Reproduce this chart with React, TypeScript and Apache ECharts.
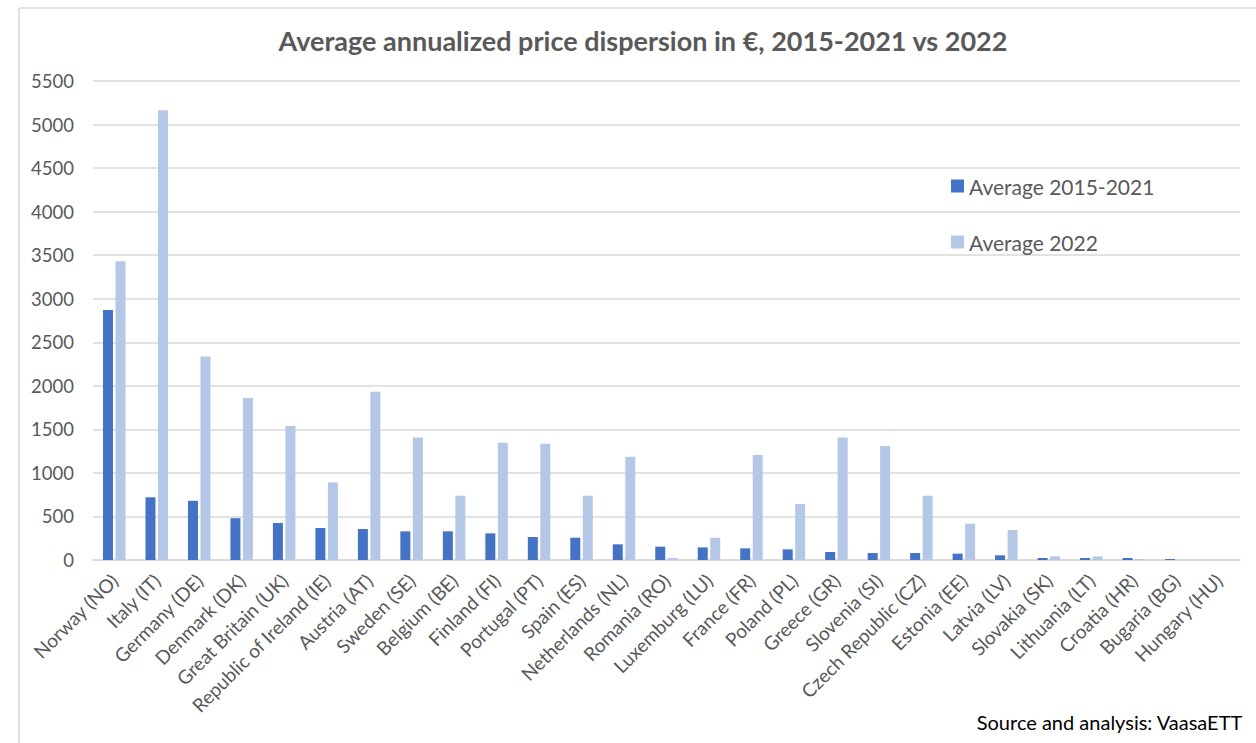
import React, { useEffect, useRef } from "react";
import * as echarts from "echarts";

const categories = [
  "Norway (NO)", "Italy (IT)", "Germany (DE)", "Denmark (DK)", "Great Britain (UK)",
  "Republic of Ireland (IE)", "Austria (AT)", "Sweden (SE)", "Belgium (BE)", "Finland (FI)",
  "Portugal (PT)", "Spain (ES)", "Netherlands (NL)", "Romania (RO)", "Luxemburg (LU)",
  "France (FR)", "Poland (PL)", "Greece (GR)", "Slovenia (SI)", "Czech Republic (CZ)",
  "Estonia (EE)", "Latvia (LV)", "Slovakia (SK)", "Lithuania (LT)", "Croatia (HR)",
  "Bugaria (BG)", "Hungary (HU)",
];

const avg2015_2021 = [
  2870, 720, 680, 480, 425, 367, 356, 329, 329, 306, 264, 256, 180, 153, 145,
  134, 122, 92, 80, 80, 73, 54, 23, 23, 23, 11, 0,
];

const avg2022 = [
  3430, 5165, 2337, 1860, 1538, 891, 1931, 1408, 738, 1346, 1335, 738, 1186, 23, 256,
  1205, 643, 1408, 1308, 738, 417, 344, 42, 42, 11, 0, 0,
];

const seriesNames = ["Average 2015-2021", "Average 2022"];
const titleText = "Average annualized price dispersion in €, 2015-2021 vs 2022";
const sourceText = "Source and analysis: VaasaETT";

const FONT = "Lato, 'Open Sans', sans-serif";

export default function App() {
  const ref = useRef<HTMLDivElement>(null);

  useEffect(() => {
    if (!ref.current) return;
    const chart = echarts.init(ref.current, null, { renderer: "svg" });
    chart.setOption({
      animation: false,
      backgroundColor: "#ffffff",
      title: {
        text: titleText,
        left: 638,
        textAlign: "center",
        top: 22,
        textStyle: {
          fontFamily: FONT,
          fontSize: 27,
          fontWeight: "bold",
          color: "#595959",
        },
      },
      legend: {
        orient: "vertical",
        left: 946,
        top: 170,
        icon: "rect",
        itemWidth: 13,
        itemHeight: 13,
        itemGap: 34,
        textStyle: {
          fontFamily: FONT,
          fontSize: 21,
          color: "#595959",
          lineHeight: 22,
        },
        data: seriesNames,
      },
      grid: {
        left: 93,
        right: 16,
        top: 81,
        bottom: 183,
        containLabel: false,
      },
      xAxis: {
        type: "category",
        data: categories,
        axisLine: { lineStyle: { color: "#d9d9d9", width: 1.5 } },
        axisTick: { show: false },
        axisLabel: {
          interval: 0,
          rotate: 45,
          margin: 17,
          fontFamily: FONT,
          fontSize: 19,
          color: "#595959",
        },
      },
      yAxis: {
        type: "value",
        min: 0,
        max: 5500,
        interval: 500,
        axisLine: { show: false },
        axisTick: { show: false },
        splitLine: { lineStyle: { color: "#d9d9d9", width: 1.5 } },
        axisLabel: {
          margin: 19,
          fontFamily: FONT,
          fontSize: 18.5,
          color: "#595959",
          formatter: (v: number) => String(v),
        },
      },
      series: [
        {
          name: seriesNames[0],
          type: "bar",
          data: avg2015_2021,
          barWidth: 10,
          barGap: "25%",
          itemStyle: { color: "#4472C4" },
        },
        {
          name: seriesNames[1],
          type: "bar",
          data: avg2022,
          barWidth: 10,
          barGap: "25%",
          itemStyle: { color: "#B4C7E7" },
        },
      ],
      graphic: [
        {
          type: "line",
          shape: { x1: 19, y1: 8, x2: 1256, y2: 8 },
          style: { stroke: "#d9d9d9", lineWidth: 1.5 },
        },
        {
          type: "line",
          shape: { x1: 19, y1: 8, x2: 19, y2: 743 },
          style: { stroke: "#d9d9d9", lineWidth: 1.5 },
        },
        {
          type: "text",
          right: 13,
          top: 712,
          style: {
            text: sourceText,
            fontFamily: FONT,
            fontSize: 20,
            fill: "#000000",
          },
        },
      ],
    });
    return () => chart.dispose();
  }, []);

  return (
    <div
      ref={ref}
      style={{ position: "fixed", left: 0, top: 0, width: 1256, height: 743 }}
    />
  );
}
